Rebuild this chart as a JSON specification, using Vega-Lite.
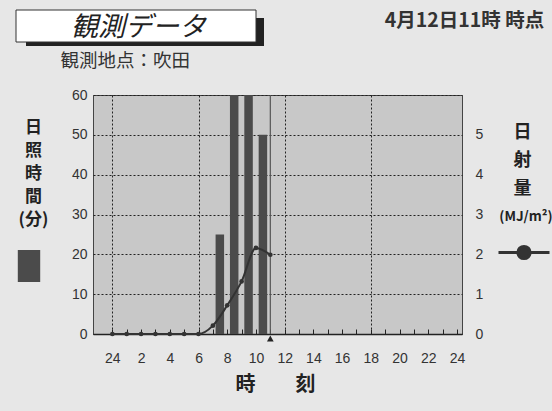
{
  "$schema": "https://vega.github.io/schema/vega-lite/v6.json",
  "width": 369,
  "height": 239,
  "autosize": {"type": "none"},
  "padding": {"left": 93, "top": 95, "right": 90, "bottom": 77},
  "background": "#e7e7e7",
  "title": {
    "text": "観測データ",
    "anchor": "start",
    "frame": "group",
    "dx": -22,
    "dy": 58,
    "offset": 26,
    "font": "Noto Sans CJK JP",
    "fontSize": 27,
    "fontStyle": "italic",
    "fontWeight": "normal",
    "color": "#222"
  },
  "config": {
    "view": {"fill": "#c8c8c8", "stroke": "#444", "strokeWidth": 1},
    "font": "Liberation Sans"
  },
  "datasets": {
    "sun": [
      {"hour": 1, "minutes": 0}, {"hour": 2, "minutes": 0}, {"hour": 3, "minutes": 0},
      {"hour": 4, "minutes": 0}, {"hour": 5, "minutes": 0}, {"hour": 6, "minutes": 0},
      {"hour": 7, "minutes": 0}, {"hour": 8, "minutes": 25}, {"hour": 9, "minutes": 60},
      {"hour": 10, "minutes": 60}, {"hour": 11, "minutes": 50}
    ],
    "rad": [
      {"hour": 0, "mj": 0}, {"hour": 1, "mj": 0}, {"hour": 2, "mj": 0}, {"hour": 3, "mj": 0},
      {"hour": 4, "mj": 0}, {"hour": 5, "mj": 0}, {"hour": 6, "mj": 0}, {"hour": 7, "mj": 0.21},
      {"hour": 8, "mj": 0.72}, {"hour": 9, "mj": 1.32}, {"hour": 10, "mj": 2.16}, {"hour": 11, "mj": 1.99}
    ],
    "now": [{"hour": 11}]
  },
  "resolve": {
    "scale": {"y": "independent", "fill": "independent"},
    "axis": {"x": "independent", "y": "independent"},
    "legend": {"fill": "independent"}
  },
  "layer": [
    {
      "data": {"name": "sun"},
      "mark": {"type": "bar", "size": 8.5, "xOffset": -7.4},
      "encoding": {
        "x": {
          "field": "hour", "type": "quantitative",
          "scale": {"domain": [-1, 24], "nice": false, "zero": false},
          "axis": {
            "orient": "bottom",
            "values": [0,1,2,3,4,5,6,7,8,9,10,11,12,13,14,15,16,17,18,19,20,21,22,23,24],
            "labelExpr": "datum.value % 2 ? '' : (datum.value == 0 ? '24' : datum.label)",
            "labelFont": "Liberation Sans", "labelFontSize": 14, "labelColor": "#333",
            "labelPadding": 22, "labelFlush": false, "labelOverlap": false,
            "ticks": true, "tickSize": -5, "tickColor": "#222", "tickWidth": 1,
            "domain": true, "domainColor": "#222", "domainWidth": 1.5,
            "grid": true, "gridColor": "#222", "gridDash": [2, 2], "gridWidth": 1,
            "gridOpacity": {"condition": {"test": "datum.value % 6 == 0 && datum.value < 24", "value": 1}, "value": 0},
            "title": "時\u3000\u3000刻",
            "titleFont": "Noto Sans CJK JP", "titleFontSize": 20, "titleFontWeight": "bold", "titleColor": "#222",
            "titleX": 182, "titleY": 50, "titleBaseline": "middle", "titleAlign": "center"
          }
        },
        "y": {
          "field": "minutes", "type": "quantitative",
          "scale": {"domain": [0, 60], "nice": false},
          "axis": {
            "orient": "left",
            "values": [0, 10, 20, 30, 40, 50, 60],
            "domain": false, "ticks": false,
            "labelPadding": 6, "labelFont": "Liberation Sans", "labelFontSize": 14, "labelColor": "#333",
            "grid": true, "gridColor": "#222", "gridDash": [2, 2], "gridWidth": 1,
            "title": ["日", "照", "時", "間", "(分)"],
            "titleAngle": 0, "titleX": -60, "titleY": 24, "titleAlign": "center", "titleBaseline": "top",
            "titleLineHeight": 23, "titleFont": "Noto Sans CJK JP", "titleFontSize": 17,
            "titleFontWeight": "bold", "titleColor": "#222"
          }
        },
        "fill": {
          "datum": "日照",
          "scale": {"range": ["#4b4b4b"]},
          "legend": {
            "orient": "none", "legendX": -80, "legendY": 155, "title": null,
            "symbolType": "M-0.7,-1H0.7V1H-0.7Z", "symbolSize": 1024,
            "symbolStrokeWidth": 0, "symbolOpacity": 1, "labelExpr": "''", "padding": 0
          }
        }
      }
    },
    {
      "data": {"name": "now"},
      "mark": {"type": "point", "shape": "triangle-up", "filled": true, "size": 45, "color": "#222", "opacity": 1, "yOffset": 4.5},
      "encoding": {
        "x": {
          "field": "hour", "type": "quantitative",
          "scale": {"domain": [-1, 24], "nice": false, "zero": false},
          "axis": {
            "orient": "top", "labels": false, "ticks": false, "domain": false, "grid": false,
            "title": "観測地点：吹田",
            "titleFont": "Noto Sans CJK JP", "titleFontSize": 18.5, "titleFontWeight": "normal", "titleColor": "#333",
            "titleX": -33, "titleY": -35, "titleAlign": "left", "titleBaseline": "middle"
          }
        },
        "y": {"datum": 0, "type": "quantitative", "scale": {"domain": [0, 60]}, "axis": null},
        "fill": {
          "datum": 0.5, "type": "quantitative",
          "scale": {"domain": [0, 1], "range": ["#222", "#222"]},
          "legend": {
            "type": "gradient", "direction": "horizontal", "orient": "none",
            "legendX": -67, "legendY": -77, "title": null, "padding": 0,
            "gradientLength": 238, "gradientThickness": 28, "gradientStrokeWidth": 0,
            "labelExpr": "''", "labelFontSize": 1
          }
        }
      }
    },
    {
      "data": {"name": "now"},
      "mark": {"type": "rule", "color": "#555", "strokeWidth": 1.2},
      "encoding": {
        "x": {
          "field": "hour", "type": "quantitative",
          "scale": {"domain": [-1, 24], "nice": false, "zero": false},
          "axis": {
            "orient": "top", "labels": false, "ticks": false, "domain": false, "grid": false,
            "title": "4月12日11時 時点",
            "titleFont": "Noto Sans CJK JP", "titleFontSize": 19.5, "titleFontWeight": "bold", "titleColor": "#333",
            "titleX": 371, "titleY": -75, "titleAlign": "center", "titleBaseline": "middle"
          }
        },
        "fill": {
          "datum": 0.5, "type": "quantitative",
          "scale": {"domain": [0, 1], "range": ["#ffffff", "#ffffff"]},
          "legend": {
            "type": "gradient", "direction": "horizontal", "orient": "none",
            "legendX": -77, "legendY": -85, "title": null, "padding": 0,
            "gradientLength": 240, "gradientThickness": 32,
            "gradientStrokeColor": "#333", "gradientStrokeWidth": 1,
            "labelExpr": "''", "labelFontSize": 1
          }
        }
      }
    },
    {
      "data": {"name": "rad"},
      "mark": {"type": "line", "interpolate": "monotone", "strokeWidth": 2},
      "encoding": {
        "x": {"field": "hour", "type": "quantitative", "scale": {"domain": [-1, 24], "nice": false, "zero": false}, "axis": null},
        "y": {
          "field": "mj", "type": "quantitative",
          "scale": {"domain": [0, 6], "nice": false},
          "axis": {
            "orient": "right", "values": [0, 1, 2, 3, 4, 5],
            "domain": false, "ticks": false, "grid": false,
            "labelPadding": 13, "labelAlign": "left", "labelFont": "Liberation Sans", "labelFontSize": 14, "labelColor": "#333",
            "title": ["日", "射", "量"],
            "titleAngle": 0, "titleX": 60, "titleY": 28, "titleAlign": "center", "titleBaseline": "top",
            "titleLineHeight": 28, "titleFont": "Noto Sans CJK JP", "titleFontSize": 18,
            "titleFontWeight": "bold", "titleColor": "#222"
          }
        },
        "stroke": {
          "datum": "日射",
          "scale": {"range": ["#333"]},
          "legend": {
            "orient": "none", "legendX": 404, "legendY": 115,
            "title": "(MJ/m²)", "titleFont": "Noto Sans CJK JP", "titleFontSize": 13.5, "titleFontWeight": "bold",
            "titleColor": "#222", "titlePadding": 2, "titleAnchor": "middle",
            "symbolType": "M-1,0L1,0M-0.24,0A0.24,0.24,0,1,1,0.24,0A0.24,0.24,0,1,1,-0.24,0Z",
            "symbolSize": 2601, "symbolStrokeWidth": 3, "symbolStrokeColor": "#333", "symbolFillColor": "#333",
            "labelExpr": "''", "padding": 0,
            "encode": {"symbols": {"update": {"fill": {"value": "#333"}, "opacity": {"value": 1}}}}
          }
        }
      }
    },
    {
      "data": {"name": "rad"},
      "mark": {"type": "point", "filled": true, "size": 22, "color": "#333", "opacity": 1},
      "encoding": {
        "x": {"field": "hour", "type": "quantitative", "scale": {"domain": [-1, 24], "nice": false, "zero": false}, "axis": null},
        "y": {"field": "mj", "type": "quantitative", "scale": {"domain": [0, 6], "nice": false}, "axis": null}
      }
    }
  ]
}
